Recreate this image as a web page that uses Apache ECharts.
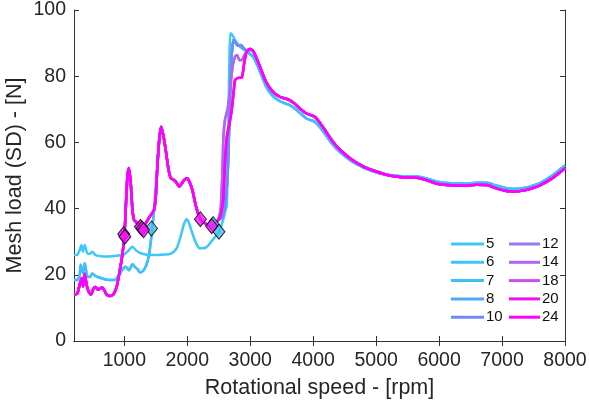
<!DOCTYPE html>
<html>
<head>
<meta charset="utf-8">
<script src="https://cdn.jsdelivr.net/npm/echarts@6/dist/echarts.min.js"></script>
<style>html,body{margin:0;padding:0;background:#fff}#chart{width:589px;height:408px}</style>
</head>
<body>
<div id="chart"></div>
<script>
// ---- Data ----
const seriesNames = ['5','6','7','8','10','12','14','18','20','24'];
const xTickValues = [1000,2000,3000,4000,5000,6000,7000,8000];

// Series 5: its own curve up to ~2950 rpm
const rpmS5  = [200,250,290,316,340,370,400,422,460,491,540,600,730,900,1000,1060,1127,1190,1260,1400,1520,1650,1730,1800,1842,1900,1950,1991,2030,2081,2140,2197,2300,2400,2503,2560,2600,2628,2653,2670,2685,2720,2760,2839,2945];
const loadS5 = [26,26,27.5,29,27,29,27,26.3,26.5,27,26,25.7,25.5,25.8,26.2,27.2,28.5,27.3,26.5,26,26,26.1,26.3,27.2,28.5,32,35.5,36.8,35.5,32.5,29.5,28,28.3,30.5,33,36,39,41,66.8,86.9,93,92.3,90.9,88.9,87.4];

// Low-speed part of series 6/7 (baseline ~18)
const rpmLowCyan  = [200,250,290,306,340,370,411,450,491,530,570,700,836,900,968,1021,1074,1127,1170,1206,1250,1300,1350,1392,1420,1445,1490,1524,1555];
const loadLowCyan = [18.4,18.4,20,23,20.5,23.5,19.4,19.3,20.4,19.8,19.4,18.6,18.4,19.5,21.5,22.4,21.4,23.2,22.3,21.8,20.7,21.2,23,26,30,34,44,52.7,61];

// Low-speed part shared by series 8..24 (baseline ~14)
const rpmLowMain  = [200,250,290,322,345,370,400,430,470,510,545,580,615,650,690,720,780,830,880,920,960,1000,1021,1048,1072,1100,1127,1154,1210,1270,1300,1339,1400,1472,1500,1525,1555];
const loadLowMain = [14,14.2,17,19,16.5,20.3,17,15,14,15.8,16.3,15.5,15.9,16.2,15,14,13.6,14.2,16.5,20.5,25,31.5,39.6,49.6,52.3,48,40,36.6,35.5,34.2,33.6,35.5,37.5,39.6,44,53,61];

// Middle part shared by series 6..24
const rpmMid  = [1584,1620,1657,1700,1737,1790,1830,1870,1910,1949,2001,2040,2081,2140,2208,2300,2387,2440];
const loadMid = [64.7,62,57.7,52,49.2,48.6,47.8,46.6,47.5,48.6,49.2,47.8,45.6,40.5,36.8,35.3,34.7,35.5];

// Jump to the main resonance
const rpmRiseBlue    = [2490,2560,2600,2640,2670,2700,2733,2770,2800,2850,2900,2960];
const loadRiseBlue   = [36.5,37.5,41,50,68,85,90.9,90,89.2,89.4,88.4,87.5];
const rpmRisePurple  = [2490,2530,2555,2575,2600,2640,2680,2720,2760,2790,2830,2870,2920,2972];
const loadRisePurple = [36.5,40,50,62,67,70,76,83,86,86.4,84.8,85,86.8,88];
const rpmRiseMain    = [2490,2521,2550,2574,2601,2628,2670,2707,2740,2760,2810,2866,2900,2935,2972];
const loadRiseMain   = [36.5,37.6,40,43.6,54.7,61.7,65.8,70,76,78.9,79.5,79.6,83.5,87,88];

// High-speed tails
const rpmTail      = [3000,3050,3120,3250,3350,3465,3550,3623,3700,3800,3887,3950,4019,4112,4205,4300,4430,4600,4800,5000,5150,5277,5450,5650,5800,5950,6126,6400,6600,6762,6900,7050,7185,7350,7500,7610,7800,8000];
const loadTailMain = [88.2,87.5,84.5,78.3,75.5,73.8,73.3,72.8,71.8,70,68.8,68.3,67.8,65.8,63.2,60.5,57.7,55,52.7,51.2,50.3,49.8,49.4,49.3,48.6,47.6,47.1,46.9,47.2,47.1,46.2,45.4,45.1,45.5,46.3,47.1,49.2,52.2];
const loadTailCyan = [86.6,85.8,83,77,74.2,72.5,71.8,71.3,70.3,68.7,67.3,66.8,66.3,64.5,62.1,59.6,57,54.5,52.4,51,50.3,50,49.7,49.7,49.1,48.2,47.7,47.5,47.8,47.8,47,46.2,45.9,46.2,47,47.8,50,53];

// Diamond markers: which series, rpm, load
const markSeries = ['7','5','6','8','10','12','14','18','20','24'];
const markRpm    = [2410,2503,1431,990,1255,1280,1305,1008,2208,2387];
const markLoad   = [35.3,33,34,32.3,34.5,34,33.5,31.5,36.8,34.7];

// ---- Build ----
const zip = (xs, ys) => xs.map((x, i) => [x, ys[i]]);
const segLowCyan = zip(rpmLowCyan, loadLowCyan);
const segLowMain = zip(rpmLowMain, loadLowMain);
const segMid = zip(rpmMid, loadMid);
const segBlue = zip(rpmRiseBlue, loadRiseBlue);
const segPurple = zip(rpmRisePurple, loadRisePurple);
const segMainRise = zip(rpmRiseMain, loadRiseMain);
const tailMain = zip(rpmTail, loadTailMain);
const tailCyan = zip(rpmTail, loadTailCyan);

const seriesData = {
  '5':  [].concat(zip(rpmS5, loadS5), tailCyan),
  '6':  [].concat(segLowCyan, segMid, segBlue, tailCyan),
  '7':  [].concat(segLowCyan, segMid, segBlue, tailCyan),
  '8':  [].concat(segLowMain, segMid, segBlue, tailMain),
  '10': [].concat(segLowMain, segMid, segBlue, tailMain),
  '12': [].concat(segLowMain, segMid, segPurple, tailMain),
  '14': [].concat(segLowMain, segMid, segPurple, tailMain),
  '18': [].concat(segLowMain, segMid, segMainRise, tailMain),
  '20': [].concat(segLowMain, segMid, segMainRise, tailMain),
  '24': [].concat(segLowMain, segMid, segMainRise, tailMain)
};

const colors = {
  '5':'#3cc8fa','6':'#3cc4fa','7':'#40bff8','8':'#52a8f8','10':'#7488f5',
  '12':'#9878f0','14':'#b066f0','18':'#cc4ef0','20':'#f012f0','24':'#ff00ff'
};
const markerCyan = '#44bde8';
const markerMagenta = '#f414f4';
const cyanGroup = ['5','6','7'];

const FONT = 'Liberation Sans, Arial, Helvetica, sans-serif';
const TXT = '#262626';

const lineSeries = seriesNames.map(n => ({
  name: n,
  type: 'line',
  data: seriesData[n],
  showSymbol: false,
  smooth: 0.2,
  color: colors[n],
  lineStyle: { width: 2.5, color: colors[n] },
  xAxisIndex: 0, yAxisIndex: 0,
  z: 2
}));

const markerSeries = {
  type: 'scatter',
  symbol: 'diamond',
  symbolSize: [12, 15],
  xAxisIndex: 0, yAxisIndex: 0,
  z: 5,
  data: markSeries.map((s, i) => ({
    value: [markRpm[i], markLoad[i]],
    itemStyle: { color: cyanGroup.includes(s) ? markerCyan : markerMagenta, borderColor: '#000', borderWidth: 1 }
  }))
};

const axisLineStyle = { color: '#333', width: 1 };
const plain = v => String(v);

const option = {
  animation: false,
  backgroundColor: '#fff',
  textStyle: { fontFamily: FONT },
  grid: { left: 74, right: 24, top: 10, bottom: 67, containLabel: false, outerBoundsMode: 'none' },
  legend: [
    {
      data: seriesNames.slice(0, 5),
      orient: 'vertical', left: 446, top: 231,
      icon: 'rect', itemWidth: 33, itemHeight: 3, itemGap: 2.3,
      textStyle: { fontSize: 15, lineHeight: 16, color: '#111', fontFamily: FONT, padding: [0,0,0,-3] },
      selectedMode: false
    },
    {
      data: seriesNames.slice(5),
      orient: 'vertical', left: 504, top: 231,
      icon: 'rect', itemWidth: 31, itemHeight: 3, itemGap: 2.3,
      textStyle: { fontSize: 15, lineHeight: 16, color: '#111', fontFamily: FONT, padding: [0,0,0,-3] },
      selectedMode: false
    }
  ],
  xAxis: [
    {
      type: 'value', min: 200, max: 8000, position: 'bottom',
      name: 'Rotational speed - [rpm]', nameLocation: 'middle', nameGap: 36, nameMoveOverlap: false,
      nameTextStyle: { fontSize: 21.5, color: TXT, fontFamily: FONT },
      axisLine: { show: true, lineStyle: axisLineStyle },
      axisTick: { show: true, inside: true, length: 5, lineStyle: axisLineStyle, customValues: xTickValues },
      axisLabel: { show: true, fontSize: 19.5, color: TXT, margin: 10, fontFamily: FONT, customValues: xTickValues, formatter: plain },
      splitLine: { show: false }
    },
    {
      type: 'value', min: 200, max: 8000, position: 'top',
      axisLine: { show: true, lineStyle: axisLineStyle },
      axisTick: { show: true, inside: true, length: 5, lineStyle: axisLineStyle, customValues: xTickValues },
      axisLabel: { show: false },
      splitLine: { show: false }
    }
  ],
  yAxis: [
    {
      type: 'value', min: 0, max: 100, interval: 20, position: 'left',
      name: 'Mesh load (SD) - [N]', nameLocation: 'middle', nameGap: 48, nameMoveOverlap: false,
      nameTextStyle: { fontSize: 21.5, color: TXT, fontFamily: FONT },
      axisLine: { show: true, lineStyle: axisLineStyle },
      axisTick: { show: true, inside: true, length: 5, lineStyle: axisLineStyle },
      axisLabel: { show: true, fontSize: 19.5, color: TXT, margin: 8, fontFamily: FONT, formatter: plain },
      splitLine: { show: false }
    },
    {
      type: 'value', min: 0, max: 100, interval: 20, position: 'right',
      axisLine: { show: true, lineStyle: axisLineStyle },
      axisTick: { show: true, inside: true, length: 5, lineStyle: axisLineStyle },
      axisLabel: { show: false },
      splitLine: { show: false }
    }
  ],
  series: lineSeries.concat([markerSeries])
};

const chart = echarts.init(document.getElementById('chart'), null, { renderer: 'canvas' });
chart.setOption(option);
</script>
</body>
</html>
